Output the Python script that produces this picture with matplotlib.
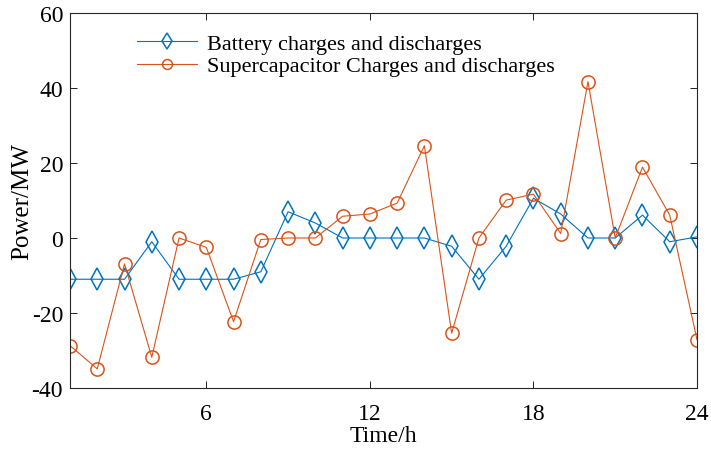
import matplotlib
matplotlib.use("Agg")
import matplotlib.pyplot as plt

hours = list(range(1, 25))
battery = [-11, -11, -11, -1, -11, -11, -11, -9, 7, 4, 0, 0,
           0, 0, -2.2, -11, -2.2, 10.6, 6.4, 0, 0, 6.1, -1, 0.3]
supercap = [-28.7, -34.9, -6.9, -31.8, 0, -2.5, -22.3, -0.4, 0, 0, 5.8, 6.4,
            9.3, 24.6, -25.4, 0, 10.1, 11.7, 1.2, 41.7, 0, 18.9, 6.1, -27.1]
xticks = [6, 12, 18, 24]
yticks = [-40, -20, 0, 20, 40, 60]

plt.rcParams['font.family'] = ['Liberation Serif', 'DejaVu Serif']
plt.rcParams['axes.unicode_minus'] = False

fig = plt.figure(figsize=(7.11, 4.52), dpi=100)
ax = fig.add_axes([70/711, 1 - 389/452, (697-70)/711, (389-14)/452])

ax.plot(hours, battery, color='#0072BD', lw=0.8, marker='d', ms=11,
        mfc='none', mec='#0072BD', mew=1.1, label='Battery charges and discharges')
ax.plot(hours, supercap, color='#D95319', lw=0.8, marker='o', ms=9.5,
        mfc='none', mec='#D95319', mew=1.1, label='Supercapacitor Charges and discharges')

ax.set_xlim(1, 24)
ax.set_ylim(-40, 60)
ax.set_xticks(xticks)
ax.set_yticks(yticks)
ax.tick_params(direction='in', top=True, right=True, labelsize=17, length=5,
               width=0.6)
ax.tick_params(axis='x', pad=11)
ax.tick_params(axis='y', pad=5)
for s in ax.spines.values():
    s.set_linewidth(0.8)
    s.set_color('#262626')
ax.set_xlabel('Time/h', fontsize=17)
ax.set_ylabel('Power/MW', fontsize=18)
ax.xaxis.set_label_coords(0.5, (389 - 426) / 375)
ax.yaxis.set_label_coords((33 - 70) / 627, 0.5)

ax.legend(loc='upper left', bbox_to_anchor=((137 - 70) / 627, (389 - 34) / 375),
          frameon=False, fontsize=16, handlelength=2.7, handletextpad=0.45,
          labelspacing=0.1, borderpad=0, borderaxespad=0, markerscale=0.75)

fig.savefig('out.png', dpi=100)
